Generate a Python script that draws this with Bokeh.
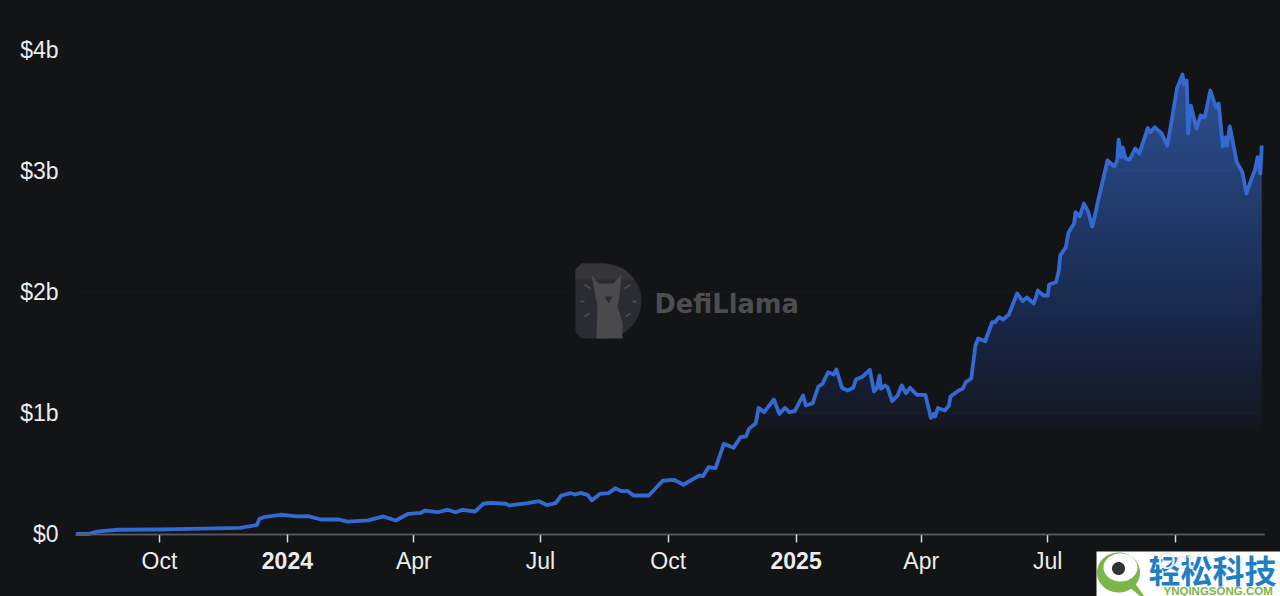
import numpy as np
import pandas as pd
from bokeh.core.properties import value
from bokeh.embed import file_html
from bokeh.resources import INLINE
from bokeh.plotting import figure
from bokeh.models import LinearAxis, FixedTicker, Range1d

# ---- data ----
start_date = "2023-08-02"
days = [0,9,15,30,60,82,118,130,132,135,147,159,167,176,189,195,210,221,230,239,248,251,260,267,273,278,287,293,298,309,312,325,333,339,345,349,356,359,363,368,371,377,383,388,392,397,401,412,422,430,437,448,451,455,460,466,473,478,482,484,489,491,495,502,506,510,513,517,523,525,530,534,537,541,545,547,551,555,559,561,566,571,574,576,578,579,582,584,587,591,594,597,600,605,611,615,617,618,620,625,628,629,635,638,640,644,647,649,654,659,661,664,667,671,677,681,684,689,692,696,699,700,705,707,708,712,714,718,719,722,725,728,731,733,735,742,747,749,750,752,753,755,758,762,765,771,773,776,781,785,787,792,796,797,799,800,802,806,809,812,816,820,822,825,827,828,830,835,839,842,846,848,850,852,853]
tvl_b = [0.0,0.0,0.02,0.035,0.037,0.043,0.051,0.074,0.126,0.139,0.159,0.145,0.147,0.12,0.12,0.103,0.112,0.145,0.112,0.167,0.175,0.194,0.18,0.2,0.18,0.2,0.186,0.25,0.258,0.25,0.236,0.255,0.271,0.238,0.255,0.318,0.337,0.326,0.34,0.324,0.277,0.332,0.337,0.379,0.354,0.354,0.318,0.318,0.44,0.448,0.407,0.483,0.478,0.552,0.544,0.745,0.712,0.8,0.806,0.869,0.916,1.043,1.007,1.112,0.993,1.043,1.007,1.015,1.145,1.062,1.081,1.219,1.241,1.337,1.318,1.36,1.208,1.186,1.208,1.277,1.302,1.357,1.178,1.202,1.31,1.2,1.227,1.208,1.098,1.145,1.227,1.164,1.208,1.15,1.15,0.96,0.993,0.971,1.041,1.021,1.062,1.136,1.186,1.202,1.255,1.285,1.558,1.616,1.593,1.75,1.75,1.792,1.773,1.814,1.988,1.924,1.955,1.905,2.012,1.971,1.971,2.062,2.081,2.178,2.302,2.37,2.494,2.566,2.66,2.624,2.731,2.668,2.541,2.632,2.742,3.087,3.037,3.087,3.26,3.114,3.194,3.103,3.095,3.186,3.145,3.354,3.32,3.362,3.31,3.21,3.335,3.682,3.798,3.715,3.748,3.31,3.541,3.351,3.459,3.444,3.665,3.527,3.558,3.202,3.277,3.21,3.368,3.073,2.99,2.814,2.949,3.004,3.114,2.979,3.211]
month_ticks = ["2023-10-01","2024-04-01","2024-07-01","2024-10-01","2025-04-01","2025-07-01","2025-10-01"]
month_labels = ["Oct","Apr","Jul","Oct","Apr","Jul","Oct"]
year_ticks = ["2024-01-01","2025-01-01"]
year_labels = ["2024","2025"]
y_ticks = [0,1,2,3,4]
y_labels = ["$0","$1b","$2b","$3b","$4b"]

# ---- style ----
BG = "#131416"
LINE = "#3569d2"
TXT = "#ececec"
FONT = "Liberation Sans"

# page-pixel helpers for furniture (the frame fills the figure, which fills the page)
def X(px): return (np.asarray(px, float) - 75.6) / 1.39
def Y(py): return (533.5 - np.asarray(py, float)) / 121.0

p = figure(width=1280, height=596, output_backend="svg", toolbar_location=None,
           x_axis_type=None, y_axis_type=None,
           x_range=Range1d(float(X(0)), float(X(1280))), y_range=Range1d(float(Y(596)), float(Y(0))),
           min_border=0, background_fill_color=BG, border_fill_color=BG, outline_line_color=None)
p.grid.visible = False

# gradient under the line, masked above the line by the background colour
stops_v = [0, .75, .98, 1.76, 2.26, 3.17, 3.9]
stops_rgb = np.array([[19,20,22],[19,20,22],[21,25,36],[25,40,74],[29,50,93],[39,69,126],[46,82,150]], float)
rows = np.linspace(0, 3.9, 400)
img = np.zeros((400, 2), dtype=np.uint32)
view = img.view(np.uint8).reshape((400, 2, 4))
for c in range(3):
    view[:, :, c] = np.interp(rows, stops_v, stops_rgb[:, c])[:, None].astype(np.uint8)
view[:, :, 3] = 255
p.image_rgba(image=[img], x=days[0], y=0, dw=days[-1]-days[0], dh=3.9)
mask_x = [days[0]-2] + days + [days[-1]+2]
mask_low = [3.95] + tvl_b + [3.95]
p.varea(x=mask_x, y1=mask_low, y2=[3.95]*len(mask_x), fill_color=BG)

# faint grid
p.segment(x0=[float(X(75))]*4, x1=[float(X(1264))]*4, y0=y_ticks[1:], y1=y_ticks[1:],
          line_color="#ffffff", line_alpha=0.025, line_width=1)

# DefiLlama watermark
t = np.linspace(-np.pi/2, np.pi/2, 40)
dx = np.concatenate([[575, 575, 581], 603.5 + 37.5*np.cos(t), [581]])
dy = np.concatenate([[332, 269, 263], 300.5 + 37.5*np.sin(t), [338]])
p.patch(X(dx), Y(dy), fill_color="#2a2c32", line_color=None)
p.patch(X([575,575,581,603,622,634,575]), Y([282,269,263,263,268,279,279]), fill_color="#353537", line_color=None)
p.patch(X([591,598,613,621,619,617,622,622,596,597,595]), Y([274,283,283,274,296,306,322,338,338,306,296]), fill_color="#4a4a4c", line_color=None)
p.patch(X([604,612,608]), Y([296,296,303]), fill_color="#2a2c32", line_color=None)
p.segment(X([584,580,584,624,632,625]), Y([284,301,316,288,301,316]), X([590,584,589,630,636,630]), Y([288,301,313,284,301,313]), line_color="#4a4a4c", line_width=2)
p.text(x=[float(X(654))], y=[float(Y(303))], text=["DefiLlama"], text_font=value("DejaVu Sans"), text_font_style="bold",
       text_font_size="25.7px", text_color="#4d4d4f", text_baseline="middle", text_align="left")

# series line
p.line(days, tvl_b, line_color=LINE, line_width=3.8, line_join="round")

# axes
def tick_days(dates):
    return [int((pd.Timestamp(d) - pd.Timestamp(start_date)).days) for d in dates]

bounds = (float(X(75)), float(X(1264)))
for dates, labels, style, standoff in ((month_ticks, month_labels, "normal", 6), (year_ticks, year_labels, "bold", 10)):
    pos = tick_days(dates)
    ax = LinearAxis(fixed_location=0, bounds=bounds, ticker=FixedTicker(ticks=pos),
                    major_label_overrides=dict(zip(pos, labels)),
                    axis_line_color="#5a5a5c", axis_line_width=1.5,
                    major_tick_line_color="#d8d8d8", major_tick_line_width=1.5,
                    major_tick_out=8, major_tick_in=0, minor_tick_out=0, minor_tick_in=0,
                    major_label_standoff=standoff, major_label_text_font=FONT,
                    major_label_text_font_size="23px", major_label_text_color=TXT,
                    major_label_text_font_style=style)
    p.add_layout(ax, "below")

ya = LinearAxis(fixed_location=float(X(75)), ticker=FixedTicker(ticks=y_ticks),
                major_label_overrides=dict(zip(y_ticks, y_labels)),
                axis_line_color=None, major_tick_line_color=None, minor_tick_line_color=None,
                major_tick_out=0, major_tick_in=0, minor_tick_out=0, minor_tick_in=0,
                major_label_standoff=17, major_label_text_font=FONT,
                major_label_text_font_size="23px", major_label_text_color=TXT)
p.add_layout(ya, "left")

# corner badge
p.quad(left=float(X(1096)), right=float(X(1280)), bottom=float(Y(596)), top=float(Y(551)), fill_color="#ffffff", line_color=None)
a = np.linspace(0, 2*np.pi, 60)
p.patch(X(1118 + 21.5*np.cos(a)), Y(572 + 20*np.sin(a)), fill_color="#7ab648", line_color=None)
p.patch(X([1128,1134,1144,1140]), Y([586,582,596,596]), fill_color="#7ab648", line_color=None)
p.patch(X(1120 + 17*np.cos(a)), Y(567 + 14*np.sin(a)), fill_color="#ffffff", line_color=None)
p.patch(X(1118 + 6.5*np.cos(a)), Y(568 + 6.5*np.sin(a)), fill_color="#333333", line_color=None)
p.text(x=[float(X(1148))], y=[float(Y(568))], text=["轻松科技"], text_font=value("Noto Sans CJK SC"), text_font_style="bold",
       text_font_size="32px", text_color="#1f7fc4", text_baseline="middle", text_align="left")
p.text(x=[float(X(1163))], y=[float(Y(590))], text=["YNQINGSONG.COM"], text_font=value("Liberation Sans"), text_font_style="bold",
       text_font_size="11.5px", text_color="#7ab648", text_baseline="middle", text_align="left")

html = file_html(p, INLINE)
css = "<style>html,body{background:#131416;overflow:hidden}</style>"
html = html.replace("</head>", css + "</head>", 1)
open("out.html", "w").write(html)
